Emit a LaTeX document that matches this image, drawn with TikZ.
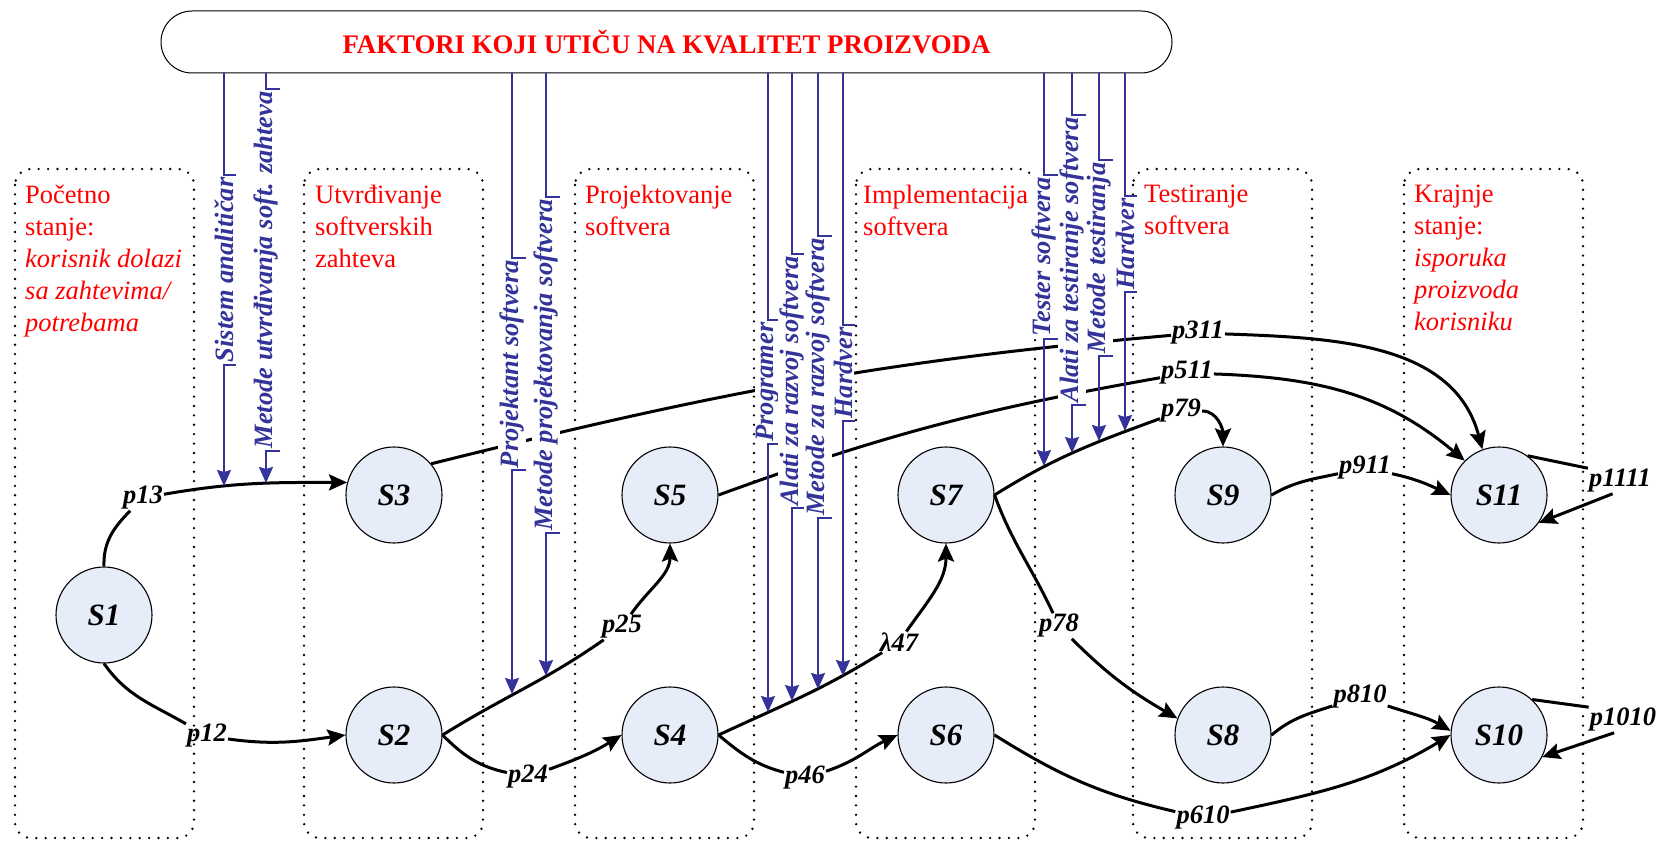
\documentclass[tikz,border=0pt]{standalone}
\usepackage{fontspec}
\setmainfont{Liberation Serif}
\usetikzlibrary{arrows.meta,positioning,shapes}
\definecolor{factorblue}{RGB}{51,51,153}
\definecolor{statefill}{RGB}{230,237,248}
\tikzset{
	state/.style = {draw, circle, line width = 1.1pt, fill = statefill, minimum size = 96pt, inner sep = 0pt,
		font = \fontsize{31}{36}\selectfont\bfseries\itshape},
	lane/.style = {draw, line width = 2.6pt, dash pattern = on 0pt off 9.4pt, line cap = round, rounded corners = 16pt},
	phase/.style = {anchor = north west, inner sep = 0pt, align = left, text = red,
		font = \fontsize{26.5}{32}\selectfont},
	title/.style = {draw, rounded corners = 31pt, minimum width = 1011pt, minimum height = 62pt, line width = 1pt,
		text = red, font = \fontsize{26.8}{30}\selectfont\bfseries},
	trans/.style = {-{Stealth[length = 18pt, width = 16pt, inset = 3pt]}, line width = 3pt},
	prob/.style = {inner sep = 1pt, font = \fontsize{26.5}{30}\selectfont\bfseries\itshape},
	factor/.style = {-{Stealth[length = 16pt, width = 14pt, inset = 2pt]}, line width = 2pt, color = factorblue},
	factortext/.style = {rotate = 90, fill = white, inner sep = 2pt, text = factorblue,
		font = \fontsize{26.5}{30}\selectfont\bfseries\itshape}
}

\begin{document}
\begin{tikzpicture}[x = 1pt, y = -1pt]
	\useasboundingbox (0, 0) rectangle (1663, 842);

	% faze
	\foreach \x in {15, 304, 575, 856, 1133, 1404}{
		\draw [lane] (\x, 169) rectangle ++(179, 669);
	}
	\node [phase] (ph1) at (25, 185) {Početno\\stanje:\\\textit{korisnik dolazi}\\\textit{sa zahtevima/}\\\textit{potrebama}};
	\node [phase] (ph2) at (315, 185) {Utvrđivanje\\softverskih\\zahteva};
	\node [phase] (ph3) at (585, 185) {Projektovanje\\softvera};
	\node [phase] (ph4) at (863, 185) {Implementacija\\softvera};
	\node [phase] (ph5) at (1144, 185) {Testiranje\\softvera};
	\node [phase] (ph6) at (1414, 185) {Krajnje\\stanje:\\\textit{isporuka}\\\textit{proizvoda}\\\textit{korisniku}};

	\node [title] (faktori) at (666.5, 42) {FAKTORI KOJI UTIČU NA KVALITET PROIZVODA};

	% stanja
	\node [state] (S1) at (104, 615) {S1};
	\node [state] (S3) at (394, 495) {S3};
	\node [state] (S2) at (394, 735) {S2};
	\node [state] (S5) at (670, 495) {S5};
	\node [state] (S4) at (670, 735) {S4};
	\node [state] (S7) at (946, 495) {S7};
	\node [state] (S6) at (946, 735) {S6};
	\node [state] (S9) at (1223, 495) {S9};
	\node [state] (S8) at (1223, 735) {S8};
	\node [state] (S11) at (1499, 495) {S11};
	\node [state] (S10) at (1499, 735) {S10};

	% verovatnoce prelaza
	\node [prob] (l13) at (143, 498) {p13};
	\node [prob] (l12) at (207, 736) {p12};
	\node [prob] (l25) at (622, 627) {p25};
	\node [prob] (l24) at (528, 777) {p24};
	\node [prob] (l47) at (899, 642) {λ47};
	\node [prob] (l46) at (805, 778) {p46};
	\node [prob] (l78) at (1059, 626) {p78};
	\node [prob] (l79) at (1181, 411) {p79};
	\node [prob] (l311) at (1198, 333) {p311};
	\node [prob] (l511) at (1187, 373) {p511};
	\node [prob] (l911) at (1365, 468) {p911};
	\node [prob] (l810) at (1360, 697) {p810};
	\node [prob] (l610) at (1203, 818) {p610};
	\node [prob] (l1111) at (1620, 481) {p1111};
	\node [prob] (l1010) at (1623, 720) {p1010};

	\draw [trans] (S1.north) to [out = 92, in = 225] (l13) to [out = 10, in = 180] (S3.165);
	\draw [trans] (S1.south) to [out = -55, in = 150] (l12) to [out = -8, in = 188] (S2.west);
	\draw [trans] (S2.east) to [out = 32, in = 215] (l25) to [out = 55, in = -90] (S5.south);
	\draw [trans] (S2.east) to [out = -45, in = 168] (l24) to [out = 20, in = 212] (S4.west);
	\draw [trans] (S4.east) to [out = 25, in = 212] (l47) to [out = 55, in = -90] (S7.south);
	\draw [trans] (S4.east) to [out = -40, in = 165] (l46) to [out = 18, in = 205] (S6.west);
	\draw [trans] (S7.east) to [out = -70, in = 115] (l78) to [out = -45, in = 150] (S8.160);
	\draw [trans] (S7.east) to [out = 32, in = 200] (l79) to [out = 0, in = 90] (S9.north);
	\draw [trans] (S3.40) to [out = 14, in = 185] (l311) to [out = -2, in = 105] (S11.110);
	\draw [trans] (S5.east) to [out = 20, in = 190] (l511) to [out = -2, in = 140] (S11.135);
	\draw [trans] (S9.east) to [out = 30, in = 192] (l911) to [out = -12, in = 155] (S11.west);
	\draw [trans] (S8.east) to [out = 40, in = 198] (l810) to [out = -18, in = 150] (S10.175);
	\draw [trans] (S6.east) to [out = -32, in = 167] (l610) to [out = 12, in = 211] (S10.west);
	\draw [trans] (S11.54) -- (l1111.north west) (l1111.-120) -- (S11.-35);
	\draw [trans] (S10.47) -- (l1010.north west) (l1010.-125) -- (S10.-27);

	% faktori
	\foreach \n/\x/\y/\tip/\txt in {
		1/224/270/486/Sistem analitičar,
		2/266/270/483/Metode utvrđivanja soft. zahteva,
		3/512/364/694/Projektant softvera,
		4/546/365/676/Metode projektovanja softvera,
		5/768/382/712/Programer,
		6/792/381/701/Alati za razvoj softvera,
		7/818/377/689/Metode za razvoj softvera,
		8/843/373/676/Hardver,
		9/1044/257/466/Tester softvera,
		10/1072/260/453/Alati za testiranje softvera,
		11/1099/258/441/Metode testiranja,
		12/1125/244/431/Hardver}{
		\node [factortext] (f\n) at (\x, \y) {\txt};
		\coordinate (t\n) at (\x, \tip);
		\draw [factor] (faktori.south -| f\n) -- (f\n.east) -- (f\n.south east)
			(f\n.south west) -- (f\n.west) -- (t\n);
	}
\end{tikzpicture}
\end{document}
